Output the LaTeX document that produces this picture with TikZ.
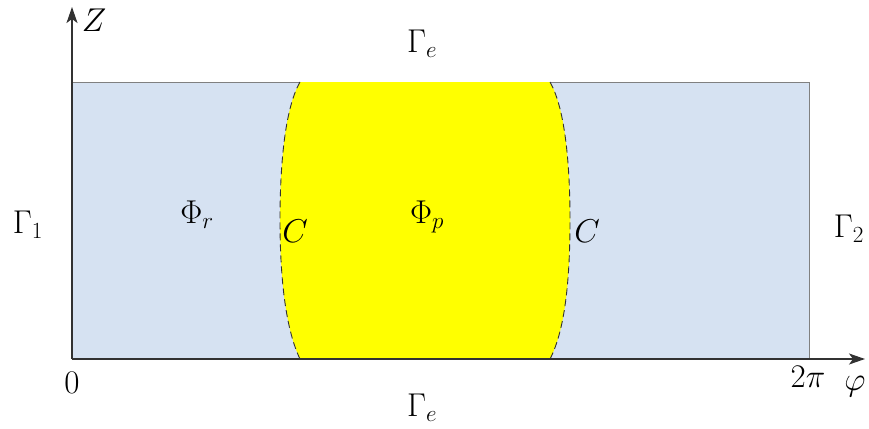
\RequirePackage{fix-cm}
\documentclass[tikz,border=0pt]{standalone}
\usetikzlibrary{arrows.meta}
\definecolor{regionblue}{RGB}{214,226,242}
\definecolor{axisgray}{RGB}{50,50,50}
\definecolor{pureyellow}{RGB}{255,255,0}
\begin{document}
\begin{tikzpicture}[x=1pt,y=-1pt,
  lbl/.style={inner sep=0pt,font=\fontsize{33}{39}\selectfont},
  boundary/.style={draw=axisgray,line width=0.9pt,dash pattern=on 7pt off 4pt},
  axisline/.style={draw=axisgray,line width=1.4pt,-{Stealth[length=16pt,width=11pt,inset=4pt]}}]
\useasboundingbox (0,0) rectangle (869,428);
\fill[regionblue,draw=gray,line width=0.6pt] (72,82) rectangle (809,359);
\fill[pureyellow] (300,82) .. controls (284,110) and (280,170) .. (280,220)
  .. controls (280,280) and (286,330) .. (300,359) -- (550,359)
  .. controls (565,330) and (570,280) .. (570,220)
  .. controls (570,170) and (566,110) .. (550,82) -- cycle;
\draw[boundary] (300,82) .. controls (284,110) and (280,170) .. (280,220)
  .. controls (280,280) and (286,330) .. (300,359);
\draw[boundary] (550,82) .. controls (566,110) and (570,170) .. (570,220)
  .. controls (570,280) and (565,330) .. (550,359);
\coordinate (o) at (72,359);
\coordinate (ztop) at (72,7);
\coordinate (xend) at (865,359);
\draw[axisline] (o) -- (ztop);
\draw[axisline] (o) -- (xend);
\node[lbl] (z) at (94,20) {$Z$};
\node[lbl] (ge1) at (422,44) {$\Gamma_e$};
\node[lbl] (ge2) at (422,408) {$\Gamma_e$};
\node[lbl] (g1) at (28,225) {$\Gamma_1$};
\node[lbl] (g2) at (849,229) {$\Gamma_2$};
\node[lbl] (fr) at (197,215) {$\Phi_r$};
\node[lbl] (fp) at (427,217) {$\Phi_p$};
\node[lbl] (c1) at (295,231) {$C$};
\node[lbl] (c2) at (587,231) {$C$};
\node[lbl] (zero) at (72,383) {$0$};
\node[lbl] (tpi) at (808,377) {$2\pi$};
\node[lbl] (phi) at (855,387) {$\varphi$};
\end{tikzpicture}
\end{document}
